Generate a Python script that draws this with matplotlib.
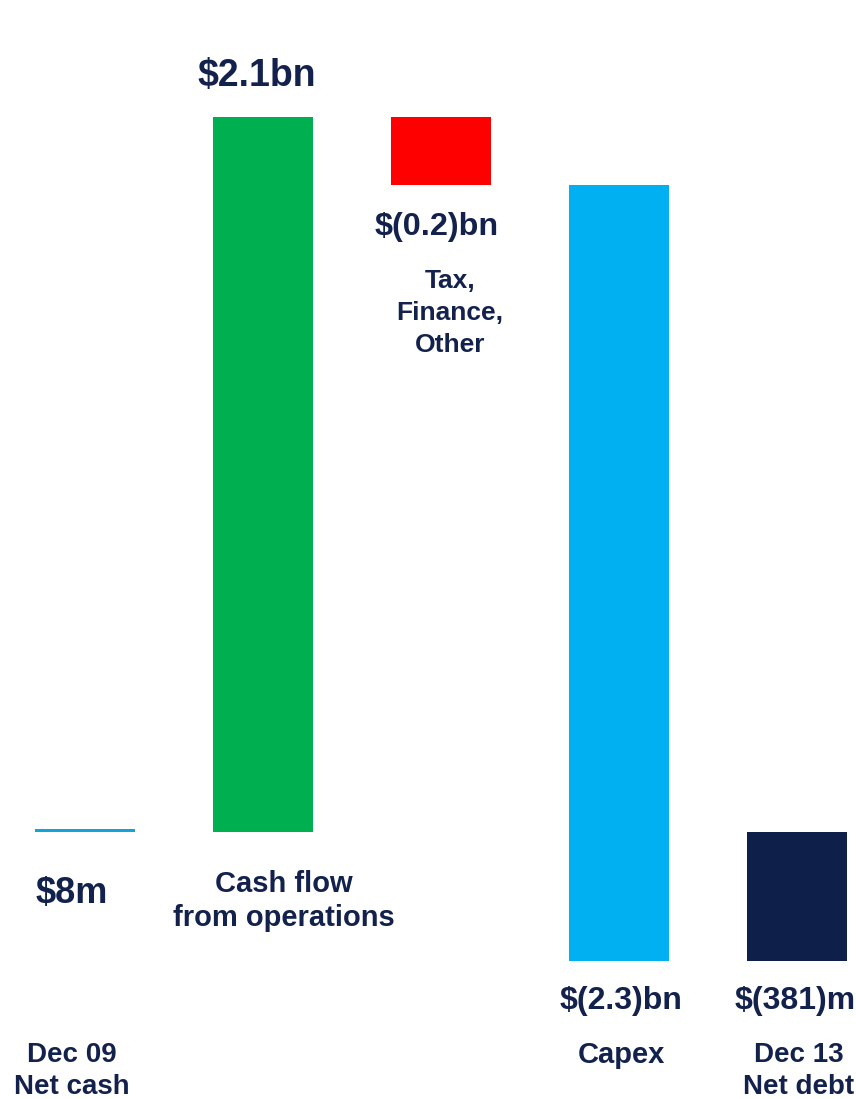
import numpy as np
import matplotlib.pyplot as plt

# waterfall values in $m
start_value = 8
step_values = [2100, -200, -2289]
end_value = start_value + sum(step_values)
bar_colors = ["#12a4d9", "#00b050", "#ff0000", "#00b0f0", "#0e2049"]

value_labels = ["$8m", "$2.1bn", "$(0.2)bn", "$(2.3)bn", "$(381)m"]
category_labels = ["Dec 09\nNet cash", "Cash flow\nfrom operations",
                   "Tax,\nFinance,\nOther", "Capex", "Dec 13\nNet debt"]

text_color = "#13214d"
plt.rcParams['font.family'] = ['Liberation Sans', 'DejaVu Sans']

W, H = 856, 1099
fig = plt.figure(figsize=(W / 100, H / 100), dpi=100)
ax = fig.add_axes([0, 0, 1, 1])
ax.axis("off")

# running totals; the first step bar is drawn from zero like in the slide
cum = np.cumsum([start_value] + step_values)
bottoms = [0, 0, cum[1], cum[2], 0]
heights = [start_value, cum[1], step_values[1], step_values[2], end_value]

x = np.arange(5)
ax.bar(x, heights, bottom=bottoms, width=0.562, color=bar_colors, linewidth=0)

# map axes so that bars land at the same pixels as the reference
spacing = 178.0
ax.set_xlim(-85 / spacing, (W - 85) / spacing)
zero_px = 832
scale = (zero_px - 117) / cum[1]
ax.set_ylim(-(H - zero_px) / scale, zero_px / scale)


def put(px, py, s, size, **kw):
    fig.text(px / W, 1 - py / H, s, fontsize=size, fontweight="bold",
             color=text_color, ha="center", va="center", **kw)


put(72, 893, value_labels[0], 26)
put(257, 76, value_labels[1], 27)
put(437, 227, value_labels[2], 23.3)
put(621, 1001, value_labels[3], 23)
put(795, 1001, value_labels[4], 23)

put(72, 1071, category_labels[0], 20, linespacing=1.33)
put(284, 901, category_labels[1], 21, linespacing=1.3)
put(450, 313, category_labels[2], 19, linespacing=1.4)
put(621, 1055, category_labels[3], 21)
put(799, 1071, category_labels[4], 20, linespacing=1.33)

fig.savefig("out.png", dpi=100)
